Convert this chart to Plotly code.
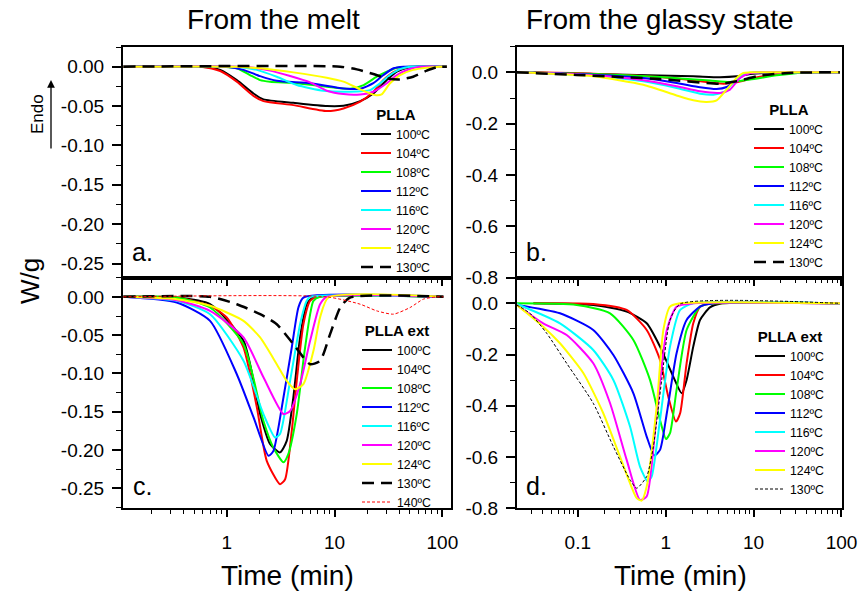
import numpy as np
import plotly.graph_objects as go

W, H = 861, 595

TEMPS = ["100ºC", "104ºC", "108ºC", "112ºC", "116ºC", "120ºC", "124ºC", "130ºC"]
COLORS = ["#000000", "#FF0000", "#00FF00", "#0000FF", "#00FFFF", "#FF00FF", "#FFFF00", "#000000"]

# a. PLLA, isothermal crystallization from the melt: time (min) and heat flow (W/g)
melt_plla_t = {
    "100ºC": [0.11, 0.57, 0.87, 1.24, 1.77, 2.19, 4.15, 8.5, 12.1, 17.3, 22.9, 30.5, 37.8, 50, 72, 110],
    "104ºC": [0.11, 0.57, 0.87, 1.24, 1.77, 2.19, 4.15, 8.5, 12.1, 17.3, 22.9, 28.4, 35.2, 47, 72, 110],
    "108ºC": [0.11, 0.87, 1.24, 1.64, 2.04, 2.52, 4.46, 8.5, 13.9, 18.6, 24.6, 30.5, 37.8, 50, 110],
    "112ºC": [0.11, 1.0, 1.43, 2.04, 2.91, 5.93, 12.1, 17.3, 22.9, 28.4, 35.2, 43.6, 110],
    "116ºC": [0.11, 1.24, 1.9, 2.91, 4.46, 7.9, 13.9, 21.3, 26.5, 32.7, 40.5, 50, 110],
    "120ºC": [0.11, 1.43, 2.52, 3.87, 5.93, 8.47, 12.1, 17.3, 22.9, 30.5, 37.8, 50, 62, 110],
    "124ºC": [0.11, 1.24, 2.04, 4.15, 8.47, 12.1, 17.3, 23.7, 27.3, 32.7, 40.5, 53.6, 71.6, 95, 110],
    "130ºC": [0.11, 11.3, 16.1, 22.9, 30.5, 40.5, 53.6, 71.6, 88, 110],
}
melt_plla_w = {
    "100ºC": [0, 0, -0.004, -0.017, -0.034, -0.0415, -0.0458, -0.050, -0.0496, -0.0437, -0.034, -0.017, -0.0064, -0.0008, 0, 0],
    "104ºC": [0, 0, -0.0055, -0.019, -0.037, -0.0437, -0.0488, -0.0564, -0.053, -0.0445, -0.0318, -0.017, -0.007, -0.0008, 0, 0],
    "108ºC": [0, 0, -0.002, -0.0106, -0.017, -0.019, -0.021, -0.0254, -0.028, -0.0233, -0.0127, -0.0064, -0.0013, 0, 0],
    "112ºC": [0, 0, -0.004, -0.012, -0.0178, -0.021, -0.0276, -0.028, -0.021, -0.0106, -0.002, 0, 0],
    "116ºC": [0, 0, -0.004, -0.0127, -0.0233, -0.0305, -0.0318, -0.0297, -0.021, -0.0106, -0.003, 0, 0],
    "120ºC": [0, 0, -0.005, -0.0119, -0.02, -0.0305, -0.0348, -0.0352, -0.0318, -0.021, -0.0106, -0.003, 0, 0],
    "124ºC": [0, 0, -0.002, -0.0072, -0.014, -0.019, -0.0288, -0.036, -0.0352, -0.021, -0.0106, -0.004, -0.0013, 0, 0],
    "130ºC": [0, 0, -0.0034, -0.0093, -0.0148, -0.0161, -0.0127, -0.005, -0.0008, 0],
}

# b. PLLA, isothermal crystallization from the glassy state
glass_plla_t = {
    "100ºC": [0.0202, 0.36, 2.06, 4.15, 6.42, 9.11, 18.3, 96],
    "104ºC": [0.0313, 0.150, 0.862, 2.06, 4.53, 6.42, 9.94, 18.3, 28.3, 96],
    "108ºC": [0.0202, 0.150, 0.862, 3.19, 5.39, 9.11, 18.3, 36.8, 96],
    "112ºC": [0.0202, 0.150, 0.557, 1.33, 2.46, 3.80, 4.94, 6.42, 8.35, 11.8, 96],
    "116ºC": [0.0202, 0.150, 0.557, 1.33, 2.46, 3.49, 4.73, 6.42, 8.35, 11.8, 96],
    "120ºC": [0.0202, 0.150, 0.557, 1.33, 2.46, 4.15, 5.39, 7.01, 9.11, 11.8, 96],
    "124ºC": [0.0202, 0.150, 0.557, 1.33, 2.06, 2.93, 3.80, 4.94, 6.42, 7.65, 9.11, 96],
    "130ºC": [0.0202, 0.097, 0.862, 4.15, 6.42, 11.8, 28.3, 96],
}
glass_plla_w = {
    "100ºC": [0, -0.009, -0.0155, -0.019, -0.0155, -0.0065, 0, 0],
    "104ºC": [0, -0.005, -0.018, -0.031, -0.044, -0.039, -0.022, -0.0065, 0, 0],
    "108ºC": [0, -0.0065, -0.018, -0.032, -0.0375, -0.028, -0.0116, -0.0013, 0],
    "112ºC": [0, -0.009, -0.022, -0.041, -0.058, -0.065, -0.057, -0.028, -0.0065, 0, 0],
    "116ºC": [0, -0.013, -0.035, -0.061, -0.083, -0.087, -0.074, -0.026, -0.0026, 0, 0],
    "120ºC": [0, -0.0116, -0.031, -0.054, -0.074, -0.08, -0.067, -0.022, -0.0026, 0, 0],
    "124ºC": [0, -0.0155, -0.048, -0.09, -0.109, -0.115, -0.109, -0.067, -0.022, -0.0026, 0, 0],
    "130ºC": [0, -0.010, -0.026, -0.044, -0.035, -0.013, -0.0013, 0],
}

# c. PLLA ext, from the melt (includes 140ºC)
melt_ext_t = {
    "100ºC": [0.11, 0.344, 0.70, 1.43, 2.04, 2.52, 3.12, 3.60, 4.15, 4.79, 5.52, 6.37, 102],
    "104ºC": [0.11, 0.344, 0.70, 1.0, 1.43, 1.90, 2.35, 3.12, 3.48, 4.01, 4.46, 5.14, 5.93, 6.84, 102],
    "108ºC": [0.11, 0.344, 0.70, 1.43, 2.19, 2.71, 3.36, 3.73, 4.46, 5.33, 6.37, 7.34, 102],
    "112ºC": [0.11, 0.344, 0.70, 1.24, 1.77, 2.44, 2.71, 3.36, 4.01, 4.62, 5.14, 102],
    "116ºC": [0.11, 0.344, 0.70, 1.43, 2.19, 2.81, 3.12, 3.87, 4.79, 5.52, 5.93, 102],
    "120ºC": [0.11, 0.344, 0.70, 1.43, 2.19, 3.36, 3.87, 4.79, 5.93, 7.34, 8.47, 102],
    "124ºC": [0.11, 0.344, 0.70, 1.43, 2.04, 2.91, 3.60, 4.31, 5.14, 6.37, 7.34, 8.77, 102],
    "130ºC": [0.11, 0.70, 1.24, 2.04, 2.91, 4.15, 5.93, 7.34, 9.09, 11.3, 13.9, 102],
    "140ºC": [0.11, 8.47, 17.3, 24.6, 35.2, 50.2, 66.7, 88.7, 102],
}
melt_ext_w = {
    "100ºC": [0, -0.0009, -0.0096, -0.0574, -0.153, -0.192, -0.203, -0.188, -0.131, -0.053, -0.0096, -0.0009, 0],
    "104ºC": [0, -0.0009, -0.0117, -0.027, -0.0661, -0.144, -0.214, -0.2445, -0.238, -0.175, -0.1096, -0.0357, -0.0052, 0, 0],
    "108ºC": [0, -0.0009, -0.0139, -0.0618, -0.162, -0.197, -0.216, -0.205, -0.153, -0.0661, -0.0052, 0, 0],
    "112ºC": [0, -0.0074, -0.0313, -0.101, -0.157, -0.2075, -0.201, -0.131, -0.0661, -0.0139, -0.0009, 0],
    "116ºC": [0, -0.0052, -0.0226, -0.0835, -0.153, -0.1836, -0.179, -0.1096, -0.0357, -0.0052, 0, 0],
    "120ºC": [0, -0.0044, -0.0183, -0.053, -0.105, -0.153, -0.149, -0.114, -0.0574, -0.0096, 0, 0],
    "124ºC": [0, -0.003, -0.0117, -0.0313, -0.053, -0.0879, -0.1096, -0.1205, -0.114, -0.0705, -0.027, -0.0009, 0],
    "130ºC": [0, 0, -0.0096, -0.0226, -0.0357, -0.0618, -0.0879, -0.0835, -0.0487, -0.0139, -0.0009, 0],
    "140ºC": [0, 0, -0.0096, -0.0183, -0.0226, -0.0139, -0.003, 0, 0],
}

# d. PLLA ext, from the glassy state
glass_ext_t = {
    "100ºC": [0.0313, 0.150, 0.360, 0.608, 0.862, 1.22, 1.52, 1.73, 2.06, 2.46, 3.19, 4.15, 96],
    "104ºC": [0.0313, 0.150, 0.360, 0.608, 0.862, 1.07, 1.31, 1.46, 1.73, 2.06, 2.46, 3.19, 96],
    "108ºC": [0.0202, 0.0973, 0.233, 0.429, 0.663, 0.862, 1.01, 1.12, 1.33, 1.73, 2.46, 3.19, 96],
    "112ºC": [0.0202, 0.0627, 0.150, 0.254, 0.429, 0.608, 0.743, 0.862, 1.03, 1.33, 1.73, 2.46, 3.49, 96],
    "116ºC": [0.0202, 0.0627, 0.150, 0.254, 0.393, 0.510, 0.624, 0.693, 0.862, 1.12, 1.46, 2.06, 96],
    "120ºC": [0.0202, 0.0404, 0.0747, 0.150, 0.233, 0.360, 0.510, 0.608, 0.790, 1.03, 1.33, 2.06, 96],
    "124ºC": [0.0202, 0.0404, 0.0627, 0.116, 0.195, 0.302, 0.468, 0.533, 0.608, 0.790, 0.941, 1.12, 1.46, 96],
    "130ºC": [0.0202, 0.0286, 0.0443, 0.0747, 0.150, 0.254, 0.393, 0.468, 0.608, 0.724, 0.901, 1.12, 1.46, 96],
}
glass_ext_w = {
    "100ºC": [0, -0.0065, -0.0325, -0.078, -0.169, -0.286, -0.351, -0.299, -0.169, -0.065, -0.0156, -0.0013, 0],
    "104ºC": [0, -0.0026, -0.026, -0.104, -0.221, -0.364, -0.4615, -0.429, -0.234, -0.078, -0.013, -0.0013, 0],
    "108ºC": [0, -0.0065, -0.039, -0.143, -0.299, -0.455, -0.530, -0.507, -0.338, -0.104, -0.013, -0.0013, 0],
    "112ºC": [-0.0065, -0.039, -0.104, -0.2015, -0.351, -0.52, -0.594, -0.572, -0.429, -0.195, -0.065, -0.013, 0, 0],
    "116ºC": [-0.0026, -0.078, -0.182, -0.299, -0.481, -0.637, -0.6955, -0.676, -0.455, -0.169, -0.026, 0, 0],
    "120ºC": [-0.0065, -0.078, -0.1235, -0.234, -0.39, -0.611, -0.767, -0.754, -0.429, -0.104, -0.013, 0, 0],
    "124ºC": [-0.0065, -0.091, -0.156, -0.273, -0.429, -0.598, -0.7605, -0.77, -0.715, -0.403, -0.104, -0.013, 0, 0],
    "130ºC": [-0.0065, -0.039, -0.117, -0.234, -0.39, -0.559, -0.689, -0.7215, -0.676, -0.559, -0.299, -0.065, -0.0026, 0],
}

Y_TICKS_SMALL = [0.0, -0.05, -0.10, -0.15, -0.20, -0.25]
Y_TICKS_LARGE = [0.0, -0.2, -0.4, -0.6, -0.8]

FONT = "Liberation Sans, Arial, Helvetica, sans-serif"


def px(x):
    return x / W


def py(y):
    return 1 - y / H


def line_style(label, panel):
    if label == "130ºC":
        if panel == "d":
            return dict(color="#000000", width=1, dash="3px,2px")
        return dict(color="#000000", width=2.5, dash="12px,7px")
    if label == "140ºC":
        return dict(color="#FF0000", width=1, dash="3px,2px")
    return dict(color=COLORS[TEMPS.index(label)], width=2)


fig = go.Figure()

panels = [
    ("a", melt_plla_t, melt_plla_w, "x", "y", "legend"),
    ("b", glass_plla_t, glass_plla_w, "x2", "y2", "legend2"),
    ("c", melt_ext_t, melt_ext_w, "x3", "y3", "legend3"),
    ("d", glass_ext_t, glass_ext_w, "x4", "y4", "legend4"),
]
for panel, tdict, wdict, xa, ya, leg in panels:
    for label in tdict:
        fig.add_trace(go.Scatter(
            x=tdict[label], y=wdict[label], mode="lines", name=label,
            line=dict(shape="spline", smoothing=0.6, **line_style(label, panel)),
            xaxis=xa, yaxis=ya, legend=leg,
        ))

dom_left = [px(122.7), px(451)]
dom_right = [px(516.7), px(842)]
dom_top = [py(277.7), py(46.7)]
dom_bot = [py(508.3), py(277.7)]

log_minor = [m * 10.0 ** e for e in range(-2, 3) for m in range(2, 10)]


def xaxis(domain, anchor, rng, labels):
    return dict(
        domain=domain, anchor=anchor, type="log", range=rng, dtick=1,
        showticklabels=labels, ticks="outside", ticklen=7, tickwidth=1.5,
        tickcolor="black", showline=True, linecolor="black", linewidth=1.5,
        mirror=True, showgrid=False, zeroline=False, ticklabelstandoff=9,
        tickfont=dict(size=19, color="black", family=FONT),
        minor=dict(tickmode="array", tickvals=log_minor, ticks="outside",
                   ticklen=4, tickwidth=1.2, tickcolor="black", showgrid=False),
    )


def yaxis(domain, anchor, rng, vals, fmt, minor_step):
    minor_vals = list(np.round(np.arange(0.1, -0.85, -minor_step), 4))
    return dict(
        domain=domain, anchor=anchor, range=rng, tickmode="array",
        tickvals=vals, ticktext=[fmt.format(abs(v)) if v == 0 else "-" + fmt.format(abs(v)) for v in vals],
        ticks="outside", ticklen=9, tickwidth=1.5, tickcolor="black",
        showline=True, linecolor="black", linewidth=1.5, mirror=True,
        showgrid=False, zeroline=False, ticklabelstandoff=4,
        tickfont=dict(size=19, color="black", family=FONT),
        minor=dict(tickmode="array", tickvals=minor_vals, ticks="outside",
                   ticklen=5, tickwidth=1.2, tickcolor="black", showgrid=False),
    )


def right_ticks(over, anchor, rng, step):
    vals = list(np.round(np.arange(0.1, -0.85, -step), 4))
    return dict(
        overlaying=over, anchor=anchor, side="right", range=rng,
        tickmode="array", tickvals=vals, ticks="inside", ticklen=5,
        tickwidth=1.2, tickcolor="black", showticklabels=False,
        showline=False, showgrid=False, zeroline=False,
    )


XL = [-0.965, 2.08]
XR = [-1.695, 2.006]
YA = [-0.268, 0.0254]
YC = [-0.276, 0.025]
YB = [-0.8, 0.1]

fig.update_layout(
    xaxis=xaxis(dom_left, "y", XL, False),
    xaxis2=xaxis(dom_right, "y2", XR, False),
    xaxis3=xaxis(dom_left, "y3", XL, True),
    xaxis4=xaxis(dom_right, "y4", XR, True),
    yaxis=yaxis(dom_top, "x", YA, Y_TICKS_SMALL, "{:.2f}", 0.025),
    yaxis2=yaxis(dom_top, "x2", YB, Y_TICKS_LARGE, "{:.1f}", 0.1),
    yaxis3=yaxis(dom_bot, "x3", YC, Y_TICKS_SMALL, "{:.2f}", 0.025),
    yaxis4=yaxis(dom_bot, "x4", YB, Y_TICKS_LARGE, "{:.1f}", 0.1),
    yaxis5=right_ticks("y", "x", YA, 0.025),
    yaxis6=right_ticks("y2", "x2", YB, 0.1),
    yaxis7=right_ticks("y3", "x3", YC, 0.025),
    yaxis8=right_ticks("y4", "x4", YB, 0.1),
)


def legend_box(x, y, title):
    return dict(
        x=px(x), xanchor="left", y=py(y), yanchor="top",
        bgcolor="rgba(0,0,0,0)", borderwidth=0,
        font=dict(size=12.3, color="black", family=FONT),
        title=dict(text="<b>" + title + "</b>", side="top center",
                   font=dict(size=15, color="black", family=FONT)),
        tracegroupgap=0, itemwidth=30,
    )


fig.update_layout(
    legend=legend_box(356, 100, "PLLA"),
    legend2=legend_box(749, 95, "PLLA"),
    legend3=legend_box(357, 316, "PLLA ext"),
    legend4=legend_box(750, 322, "PLLA ext"),
)

annotations = [
    dict(text="From the melt", x=px(273), y=py(20), size=28),
    dict(text="From the glassy state", x=px(660), y=py(20), size=28),
    dict(text="Time (min)", x=px(287), y=py(575), size=28),
    dict(text="Time (min)", x=px(680), y=py(575), size=28),
]
ann = []
for a in annotations:
    ann.append(dict(text=a["text"], x=a["x"], y=a["y"], xref="paper", yref="paper",
                    showarrow=False, xanchor="center", yanchor="middle",
                    font=dict(size=a["size"], color="black", family=FONT)))
ann.append(dict(text="W/g", x=px(30), y=py(281), xref="paper", yref="paper",
                showarrow=False, textangle=-90, xanchor="center", yanchor="middle",
                font=dict(size=26, color="black", family=FONT)))
ann.append(dict(text="Endo", x=px(38), y=py(114), xref="paper", yref="paper",
                showarrow=False, textangle=-90, xanchor="center", yanchor="middle",
                font=dict(size=17, color="black", family=FONT)))
ann.append(dict(text="", x=px(51), y=py(80), xref="paper", yref="paper",
                showarrow=True, ax=0, ay=70, arrowhead=2, arrowsize=1.2,
                arrowwidth=1.3, arrowcolor="black"))
for lab, x, y in [("a.", 130, 252), ("b.", 524, 252), ("c.", 131, 486), ("d.", 524, 486)]:
    ann.append(dict(text=lab, x=px(x), y=py(y), xref="paper", yref="paper",
                    showarrow=False, xanchor="left", yanchor="middle",
                    font=dict(size=25, color="black", family=FONT)))

fig.update_layout(
    width=W, height=H,
    margin=dict(l=0, r=0, t=0, b=0, autoexpand=False),
    paper_bgcolor="white", plot_bgcolor="white",
    annotations=ann, font=dict(family=FONT, color="black"),
)

fig.write_html("out.html")
